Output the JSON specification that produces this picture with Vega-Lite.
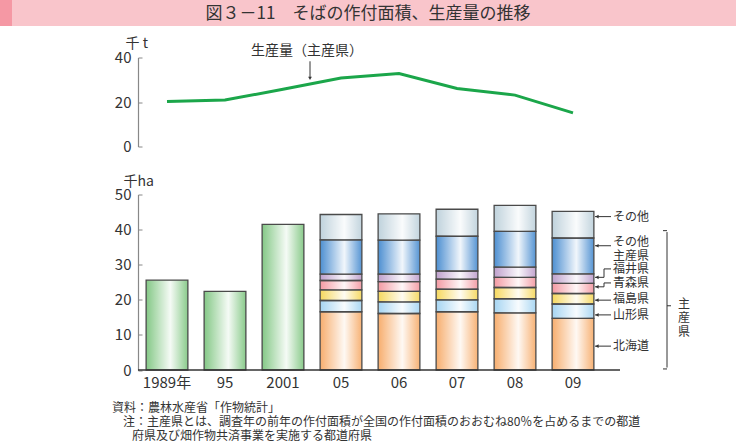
{
  "$schema": "https://vega.github.io/schema/vega-lite/v6.json",
  "background": "white",
  "padding": 0,
  "config": {
    "font": "Noto Sans CJK JP",
    "view": {"stroke": null},
    "axis": {"labelFont": "Noto Sans CJK JP", "titleFont": "Noto Sans CJK JP", "labelColor": "#333333", "titleColor": "#333333", "grid": false, "labelOverlap": false},
    "text": {"font": "Noto Sans CJK JP", "color": "#333333"}
  },
  "datasets": {
    "line": [
      {"year": "1989年", "v": 20.2},
      {"year": "95", "v": 20.9},
      {"year": "2001", "v": 25.7},
      {"year": "05", "v": 30.8},
      {"year": "06", "v": 32.8},
      {"year": "07", "v": 26.1},
      {"year": "08", "v": 23.1},
      {"year": "09", "v": 15.1}
    ],
    "bars": [
      {"year": "1989年", "cat": "合計", "v": 25.6, "rank": 0},
      {"year": "95", "cat": "合計", "v": 22.4, "rank": 0},
      {"year": "2001", "cat": "合計", "v": 41.5, "rank": 0},
      {"year": "05", "cat": "北海道", "v": 16.6, "rank": 1},
      {"year": "05", "cat": "山形県", "v": 3.2, "rank": 2},
      {"year": "05", "cat": "福島県", "v": 3.0, "rank": 3},
      {"year": "05", "cat": "青森県", "v": 2.7, "rank": 4},
      {"year": "05", "cat": "福井県", "v": 1.8, "rank": 5},
      {"year": "05", "cat": "その他主産県", "v": 9.8, "rank": 6},
      {"year": "05", "cat": "その他", "v": 7.2, "rank": 7},
      {"year": "06", "cat": "北海道", "v": 16.1, "rank": 1},
      {"year": "06", "cat": "山形県", "v": 3.3, "rank": 2},
      {"year": "06", "cat": "福島県", "v": 3.0, "rank": 3},
      {"year": "06", "cat": "青森県", "v": 2.8, "rank": 4},
      {"year": "06", "cat": "福井県", "v": 2.1, "rank": 5},
      {"year": "06", "cat": "その他主産県", "v": 9.7, "rank": 6},
      {"year": "06", "cat": "その他", "v": 7.5, "rank": 7},
      {"year": "07", "cat": "北海道", "v": 16.6, "rank": 1},
      {"year": "07", "cat": "山形県", "v": 3.4, "rank": 2},
      {"year": "07", "cat": "福島県", "v": 3.0, "rank": 3},
      {"year": "07", "cat": "青森県", "v": 2.9, "rank": 4},
      {"year": "07", "cat": "福井県", "v": 2.3, "rank": 5},
      {"year": "07", "cat": "その他主産県", "v": 9.9, "rank": 6},
      {"year": "07", "cat": "その他", "v": 7.7, "rank": 7},
      {"year": "08", "cat": "北海道", "v": 16.3, "rank": 1},
      {"year": "08", "cat": "山形県", "v": 4.0, "rank": 2},
      {"year": "08", "cat": "福島県", "v": 3.2, "rank": 3},
      {"year": "08", "cat": "青森県", "v": 2.9, "rank": 4},
      {"year": "08", "cat": "福井県", "v": 2.9, "rank": 5},
      {"year": "08", "cat": "その他主産県", "v": 10.2, "rank": 6},
      {"year": "08", "cat": "その他", "v": 7.4, "rank": 7},
      {"year": "09", "cat": "北海道", "v": 14.7, "rank": 1},
      {"year": "09", "cat": "山形県", "v": 4.1, "rank": 2},
      {"year": "09", "cat": "福島県", "v": 3.0, "rank": 3},
      {"year": "09", "cat": "青森県", "v": 2.9, "rank": 4},
      {"year": "09", "cat": "福井県", "v": 2.7, "rank": 5},
      {"year": "09", "cat": "その他主産県", "v": 10.2, "rank": 6},
      {"year": "09", "cat": "その他", "v": 7.6, "rank": 7}
    ],
    "labels": [
      {"label": "その他", "ly": 43.7, "ay": 43.7, "elbow": false},
      {"label": "その他\n主産県", "ly": 36.5, "ay": 35.4, "elbow": false},
      {"label": "福井県", "ly": 28.8, "ay": 26.4, "elbow": true},
      {"label": "青森県", "ly": 24.8, "ay": 23.7, "elbow": true},
      {"label": "福島県", "ly": 20.2, "ay": 19.9, "elbow": false},
      {"label": "山形県", "ly": 15.8, "ay": 15.7, "elbow": false},
      {"label": "北海道", "ly": 6.7, "ay": 6.8, "elbow": false}
    ]
  },
  "spacing": 10.5,
  "vconcat": [
    {
      "spacing": 0,
      "hconcat": [
        {
          "width": 12,
          "height": 26,
          "view": {"fill": "#f598a4", "stroke": null},
          "data": {"values": [{"t": ""}]},
          "mark": {"type": "text"},
          "encoding": {"text": {"field": "t"}}
        },
        {
          "width": 724,
          "height": 26,
          "view": {"fill": "#f9c5cb", "stroke": null},
          "data": {"values": [{"t": "図３－11　そばの作付面積、生産量の推移"}]},
          "mark": {"type": "text", "fontSize": 17, "color": "#333333", "baseline": "middle", "align": "center", "dx": -6, "dy": 1},
          "encoding": {"text": {"field": "t"}}
        }
      ]
    },
    {
      "spacing": 20,
      "vconcat": [
        {
          "width": 620,
          "height": 89,
          "layer": [
            {
              "data": {"name": "line"},
              "mark": {"type": "line", "color": "#1ba64a", "strokeWidth": 3},
              "encoding": {
                "x": {"field": "year", "type": "nominal", "sort": null,
                  "scale": {"domain": ["1989年", "95", "2001", "05", "06", "07", "08", "09"], "range": [138, 602], "paddingInner": 0.28, "paddingOuter": 0.14},
                  "axis": null},
                "y": {"field": "v", "type": "quantitative",
                  "scale": {"domain": [0, 40], "nice": false},
                  "axis": {"tickCount": 2, "labelOverlap": false, "offset": -138, "title": "千 t", "titleAngle": 0, "titleX": -13, "titleY": -14, "titleAlign": "left", "titleBaseline": "middle", "titleFontSize": 14, "titleFontWeight": "normal",
                    "labelFontSize": 15, "tickSize": -4, "labelPadding": 11, "domainColor": "#888888", "tickColor": "#888888", "domainWidth": 1.2}}
              }
            },
            {
              "data": {"values": [{"t": "生産量（主産県）"}]},
              "mark": {"type": "text", "fontSize": 14, "dx": 24, "baseline": "middle"},
              "encoding": {
                "x": {"datum": "2001", "type": "nominal"},
                "y": {"datum": 43.0, "type": "quantitative"},
                "text": {"field": "t"}
              }
            },
            {
              "data": {"values": [{}]},
              "mark": {"type": "rule", "color": "#333333", "strokeWidth": 1, "xOffset": 27},
              "encoding": {
                "x": {"datum": "2001", "type": "nominal"},
                "y": {"datum": 38.3, "type": "quantitative"},
                "y2": {"datum": 30.8}
              }
            },
            {
              "data": {"values": [{}]},
              "mark": {"type": "point", "shape": "triangle-down", "filled": true, "color": "#333333", "size": 14, "opacity": 1, "xOffset": 27},
              "encoding": {
                "x": {"datum": "2001", "type": "nominal"},
                "y": {"datum": 30.6, "type": "quantitative"}
              }
            }
          ]
        },
        {
          "width": 620,
          "height": 175.5,
          "resolve": {"axis": {"y": "independent"}},
          "encoding": {
            "x": {"field": "year", "type": "nominal", "sort": null,
              "scale": {"domain": ["1989年", "95", "2001", "05", "06", "07", "08", "09"], "range": [138, 602], "paddingInner": 0.28, "paddingOuter": 0.14},
              "axis": {"title": null, "labelAngle": 0, "labelFontSize": 15, "ticks": false, "labelPadding": 5, "domain": false}}
          },
          "layer": [
            {
              "data": {"name": "bars"},
              "mark": {"type": "bar", "stroke": null},
              "encoding": {
                "y": {"field": "v", "type": "quantitative", "stack": "zero",
                  "scale": {"domain": [0, 50], "nice": false},
                  "axis": {"values": [0, 10, 20, 30, 40, 50], "labelOverlap": false, "offset": -138, "title": "千ha", "titleAngle": 0, "titleX": -15, "titleY": -13, "titleAlign": "left", "titleBaseline": "middle", "titleFontSize": 14, "titleFontWeight": "normal",
                    "labelFontSize": 15, "tickSize": -4, "labelPadding": 11, "domainColor": "#888888", "tickColor": "#888888", "domainWidth": 1.2}},
                "color": {"field": "cat", "type": "nominal", "legend": null,
                  "scale": {"domain": ["合計", "北海道", "山形県", "福島県", "青森県", "福井県", "その他主産県", "その他"],
                    "range": ["#84c886", "#f7ae6e", "#a6d5f2", "#f6d85e", "#f39aa3", "#bfa0cc", "#4d8fd1", "#bfd2dc"]}},
                "order": {"field": "rank", "type": "quantitative"}
              }
            },
            {
              "data": {"name": "bars"},
              "mark": {"type": "bar", "stroke": "#4a4a4a", "strokeWidth": 1.3,
                "fill": {"gradient": "linear", "x1": 0, "y1": 0, "x2": 1, "y2": 0,
                  "stops": [{"offset": 0, "color": "rgba(255,255,255,0)"}, {"offset": 0.58, "color": "rgba(255,255,255,0.92)"}, {"offset": 1, "color": "rgba(255,255,255,0.05)"}]}},
              "encoding": {
                "y": {"field": "v", "type": "quantitative", "stack": "zero", "axis": null},
                "detail": {"field": "cat"},
                "order": {"field": "rank", "type": "quantitative"}
              }
            },
            {
              "data": {"values": [{}]},
              "mark": {"type": "rule", "color": "#333333", "strokeWidth": 1.5, "xOffset": -29, "x2Offset": 47},
              "encoding": {
                "x": {"datum": "1989年", "type": "nominal"},
                "x2": {"datum": "09"},
                "y": {"datum": 0, "type": "quantitative", "axis": null}
              }
            },
            {
              "data": {"name": "labels"},
              "transform": [{"filter": "!datum.elbow"}],
              "mark": {"type": "rule", "color": "#333333", "strokeWidth": 1, "xOffset": 22, "x2Offset": 38},
              "encoding": {
                "x": {"datum": "09", "type": "nominal"},
                "x2": {"datum": "09"},
                "y": {"field": "ay", "type": "quantitative", "axis": null}
              }
            },
            {
              "data": {"name": "labels"},
              "transform": [{"filter": "datum.elbow"}],
              "mark": {"type": "rule", "color": "#333333", "strokeWidth": 1, "xOffset": 22, "x2Offset": 31},
              "encoding": {
                "x": {"datum": "09", "type": "nominal"},
                "x2": {"datum": "09"},
                "y": {"field": "ay", "type": "quantitative", "axis": null}
              }
            },
            {
              "data": {"name": "labels"},
              "transform": [{"filter": "datum.elbow"}],
              "mark": {"type": "rule", "color": "#333333", "strokeWidth": 1, "xOffset": 31},
              "encoding": {
                "x": {"datum": "09", "type": "nominal"},
                "y": {"field": "ay", "type": "quantitative", "axis": null},
                "y2": {"field": "ly"}
              }
            },
            {
              "data": {"name": "labels"},
              "transform": [{"filter": "datum.elbow"}],
              "mark": {"type": "rule", "color": "#333333", "strokeWidth": 1, "xOffset": 31, "x2Offset": 38},
              "encoding": {
                "x": {"datum": "09", "type": "nominal"},
                "x2": {"datum": "09"},
                "y": {"field": "ly", "type": "quantitative", "axis": null}
              }
            },
            {
              "data": {"name": "labels"},
              "mark": {"type": "point", "shape": "triangle-left", "filled": true, "color": "#333333", "size": 14, "opacity": 1, "xOffset": 24},
              "encoding": {
                "x": {"datum": "09", "type": "nominal"},
                "y": {"field": "ay", "type": "quantitative", "axis": null}
              }
            },
            {
              "data": {"name": "labels"},
              "mark": {"type": "text", "fontSize": 12, "align": "left", "baseline": "middle", "dx": 40, "lineBreak": "\n", "lineHeight": 14},
              "encoding": {
                "x": {"datum": "09", "type": "nominal"},
                "y": {"field": "ly", "type": "quantitative", "axis": null},
                "text": {"field": "label"}
              }
            },
            {
              "data": {"values": [{}]},
              "mark": {"type": "rule", "color": "#333333", "strokeWidth": 1, "xOffset": 94},
              "encoding": {
                "x": {"datum": "09", "type": "nominal"},
                "y": {"datum": 39.3, "type": "quantitative", "axis": null},
                "y2": {"datum": 0.7}
              }
            },
            {
              "data": {"values": [{"y": 39.7}, {"y": 0.3}]},
              "mark": {"type": "rule", "color": "#333333", "strokeWidth": 1, "xOffset": 90, "x2Offset": 94},
              "encoding": {
                "x": {"datum": "09", "type": "nominal"},
                "x2": {"datum": "09"},
                "y": {"field": "y", "type": "quantitative", "axis": null}
              }
            },
            {
              "data": {"values": [{}]},
              "mark": {"type": "rule", "color": "#333333", "strokeWidth": 1, "xOffset": 94, "x2Offset": 98},
              "encoding": {
                "x": {"datum": "09", "type": "nominal"},
                "x2": {"datum": "09"},
                "y": {"datum": 18.3, "type": "quantitative", "axis": null}
              }
            },
            {
              "data": {"values": [{"t": "主\n産\n県"}]},
              "mark": {"type": "text", "fontSize": 12, "align": "center", "baseline": "middle", "dx": 111, "lineBreak": "\n", "lineHeight": 14},
              "encoding": {
                "x": {"datum": "09", "type": "nominal"},
                "y": {"datum": 18.8, "type": "quantitative", "axis": null},
                "text": {"field": "t"}
              }
            }
          ]
        }
      ]
    },
    {
      "width": 736,
      "height": 42,
      "data": {"values": [
        {"t": "資料：農林水産省「作物統計」", "line": 1},
        {"t": "注：主産県とは、調査年の前年の作付面積が全国の作付面積のおおむね80％を占めるまでの都道", "line": 2},
        {"t": "府県及び畑作物共済事業を実施する都道府県", "line": 3}
      ]},
      "layer": [
        {
          "transform": [{"filter": "datum.line === 1"}],
          "mark": {"type": "text", "fontSize": 12, "align": "left", "baseline": "middle", "dx": -256, "dy": -14},
          "encoding": {"text": {"field": "t"}}
        },
        {
          "transform": [{"filter": "datum.line === 2"}],
          "mark": {"type": "text", "fontSize": 12, "align": "left", "baseline": "middle", "dx": -245, "dy": 0},
          "encoding": {"text": {"field": "t"}}
        },
        {
          "transform": [{"filter": "datum.line === 3"}],
          "mark": {"type": "text", "fontSize": 12, "align": "left", "baseline": "middle", "dx": -236, "dy": 14},
          "encoding": {"text": {"field": "t"}}
        }
      ]
    }
  ]
}
